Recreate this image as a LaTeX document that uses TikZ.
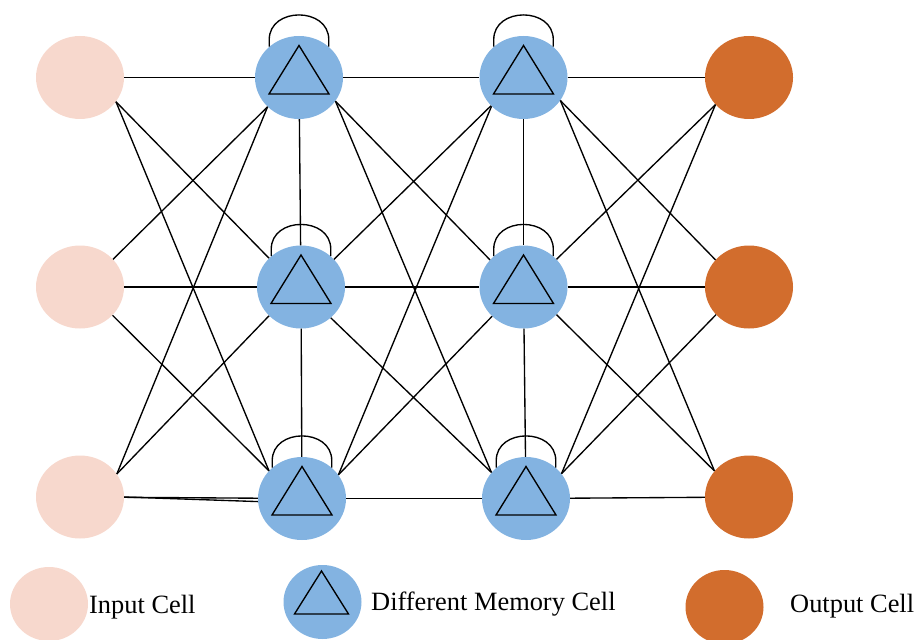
\documentclass[tikz,border=0pt]{standalone}
\usepackage{fontspec}
\setmainfont{Liberation Serif}
\usetikzlibrary{shapes.geometric}
\definecolor{incol}{HTML}{F7D8CD}
\definecolor{memcol}{HTML}{83B3E1}
\definecolor{outcol}{HTML}{D26D2D}
\begin{document}
\begin{tikzpicture}[x=1pt,y=-1pt,
  cell/.style={ellipse, minimum width=88pt, minimum height=83pt, inner sep=0pt, draw=none},
  incell/.style={cell, fill=incol},
  memcell/.style={cell, fill=memcol},
  outcell/.style={cell, fill=outcol},
  leg/.style={ellipse, minimum width=78pt, minimum height=74pt, inner sep=0pt, draw=none},
  link/.style={line width=1.35pt, black},
  lbl/.style={font=\fontsize{26.4}{30}\selectfont, inner sep=0pt, anchor=base west}]
\useasboundingbox (0,0) rectangle (917,639);

% nodes
\node[incell] (I1) at (80,77.5) {};
\node[incell] (I2) at (80,287) {};
\node[incell] (I3) at (80,497) {};
\node[memcell] (M11) at (299,77.5) {};
\node[memcell] (M21) at (301,287) {};
\node[memcell] (M31) at (302,498.5) {};
\node[memcell] (M12) at (523.5,77.5) {};
\node[memcell] (M22) at (523.5,287) {};
\node[memcell] (M32) at (526,498.5) {};
\node[outcell] (O1) at (749,77.5) {};
\node[outcell] (O2) at (749,287) {};
\node[outcell] (O3) at (749,497) {};

% horizontal links
\draw[link] (I1) -- (M11);
\draw[link] (I2) -- (M21);
\draw[link] (I3) -- (M31);
\draw[link] (I3.east) -- (M31.184);
\draw[link] (M11) -- (M12);
\draw[link] (M21) -- (M22);
\draw[link] (M31) -- (M32);
\draw[link] (M12) -- (O1);
\draw[link] (M22) -- (O2);
\draw[link] (M32) -- (O3);

% vertical links
\draw[link] (M11) -- (M21);
\draw[link] (M21) -- (M31);
\draw[link] (M12) -- (M22);
\draw[link] (M22) -- (M32);

% diagonal links
\draw[link] (I1.-34) -- (M21.138);
\draw[link] (I1.-34) -- (M31.140);
\draw[link] (I2.40) -- (M11.-137);
\draw[link] (I2.-41) -- (M31.140);
\draw[link] (I3.32) -- (M11.-137);
\draw[link] (I3.32) -- (M21.-138);
\draw[link] (M11.-33) -- (M22.141);
\draw[link] (M11.-33) -- (M32.143);
\draw[link] (M21.40) -- (M12.-139);
\draw[link] (M21.-46) -- (M32.143);
\draw[link] (M31.33) -- (M12.-138);
\draw[link] (M31.33) -- (M22.-137);
\draw[link] (M12.-32) -- (O2.141);
\draw[link] (M12.-32) -- (O3.143);
\draw[link] (M22.40) -- (O1.-141);
\draw[link] (M22.-40) -- (O3.143);
\draw[link] (M32.35) -- (O1.-141);
\draw[link] (M32.35) -- (O2.-140);

% self loops and triangles
\foreach \n in {M11,M21,M31,M12,M22,M32}{
  \draw[link] (\n.134) -- ++(0,-7) .. controls +(0,-33) and +(0,-33) .. ([yshift=7pt]\n.46) -- (\n.46);
  \draw[link] (\n.center) ++(0,-32) -- ++(30,48.5) -- ++(-60,0) -- cycle;
}

% legend
\node[leg, fill=incol] (LI) at (49,604) {};
\node[lbl] (LIt) at (89,613) {Input Cell};
\node[leg, fill=memcol] (LM) at (322.5,602) {};
\draw[link] (LM.center) ++(-1,-31) -- ++(27,43) -- ++(-54,0) -- cycle;
\node[lbl] (LMt) at (371,610) {Different Memory Cell};
\node[leg, fill=outcol] (LO) at (724.5,607) {};
\node[lbl] (LOt) at (790,612) {Output Cell};
\end{tikzpicture}
\end{document}
